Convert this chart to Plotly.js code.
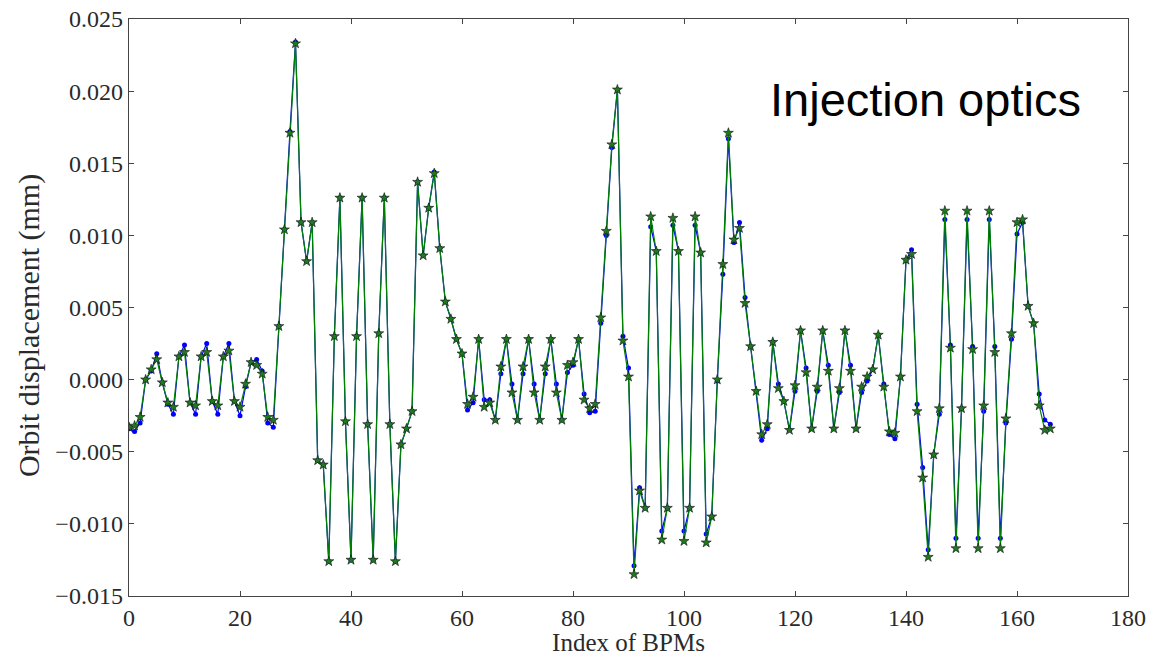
<!DOCTYPE html>
<html>
<head>
<meta charset="utf-8">
<script src="https://cdn.plot.ly/plotly-3.0.1.min.js"></script>
<style>html,body{margin:0;padding:0;background:#fff;}#chart{width:1150px;height:656px;}</style>
</head>
<body>
<div id="chart"></div>
<script>
const bpmIndex = [0,1,2,3,4,5,6,7,8,9,10,11,12,13,14,15,16,17,18,19,20,21,22,23,24,25,26,27,28,29,30,31,32,33,34,35,36,37,38,39,40,41,42,43,44,45,46,47,48,49,50,51,52,53,54,55,56,57,58,59,60,61,62,63,64,65,66,67,68,69,70,71,72,73,74,75,76,77,78,79,80,81,82,83,84,85,86,87,88,89,90,91,92,93,94,95,96,97,98,99,100,101,102,103,104,105,106,107,108,109,110,111,112,113,114,115,116,117,118,119,120,121,122,123,124,125,126,127,128,129,130,131,132,133,134,135,136,137,138,139,140,141,142,143,144,145,146,147,148,149,150,151,152,153,154,155,156,157,158,159,160,161,162,163,164,165,166];

const measured = [
-0.0034,-0.0036,-0.0030,0.0000,0.0006,0.0018,-0.0002,-0.0017,-0.0024,0.0016,
0.0024,-0.0016,-0.0024,0.0016,0.0025,-0.0015,-0.0024,0.0016,0.0025,-0.0015,
-0.0025,-0.0005,0.0012,0.0014,0.0006,-0.0030,-0.0033,0.0037,0.0104,0.0172,
0.0234,0.0109,0.0082,0.0109,-0.0056,-0.0059,-0.0126,0.0030,0.0126,-0.0029,
-0.0125,0.0030,0.0126,-0.0031,-0.0125,0.0032,0.0126,-0.0031,-0.0126,-0.0045,
-0.0034,-0.0022,0.0137,0.0086,0.0119,0.0144,0.0091,0.0054,0.0042,0.0028,
0.0018,-0.0021,-0.0016,0.0028,-0.0014,-0.0014,-0.0028,0.0004,0.0028,-0.0003,
-0.0028,0.0004,0.0028,-0.0003,-0.0028,0.0004,0.0028,-0.0003,-0.0028,0.0005,
0.0010,0.0028,-0.0010,-0.0023,-0.0022,0.0039,0.0100,0.0161,0.0201,0.0030,
0.0008,-0.0129,-0.0075,-0.0089,0.0106,0.0089,-0.0105,-0.0089,0.0107,0.0089,
-0.0105,-0.0089,0.0107,0.0088,-0.0107,-0.0095,-0.0001,0.0073,0.0167,0.0095,
0.0109,0.0057,0.0023,-0.0008,-0.0042,-0.0034,0.0026,-0.0003,-0.0015,-0.0035,
-0.0008,0.0034,0.0008,-0.0034,-0.0008,0.0034,0.0010,-0.0034,-0.0009,0.0034,
0.0010,-0.0034,-0.0009,-0.0001,0.0007,0.0031,-0.0003,-0.0038,-0.0041,0.0002,
0.0083,0.0090,-0.0017,-0.0061,-0.0118,-0.0052,-0.0024,0.0111,0.0024,-0.0110,
-0.0020,0.0111,0.0023,-0.0110,-0.0022,0.0111,0.0023,-0.0110,-0.0030,0.0028,
0.0101,0.0109,0.0051,0.0039,-0.0010,-0.0028,-0.0031];

const model = [
-0.0033,-0.0032,-0.0026,0.0000,0.0007,0.0014,-0.0002,-0.0016,-0.0019,0.0016,
0.0019,-0.0016,-0.0018,0.0016,0.0019,-0.0015,-0.0018,0.0016,0.0020,-0.0015,
-0.0019,-0.0003,0.0012,0.0010,0.0004,-0.0026,-0.0028,0.0037,0.0104,0.0171,
0.0233,0.0109,0.0082,0.0109,-0.0056,-0.0059,-0.0126,0.0030,0.0126,-0.0029,
-0.0125,0.0030,0.0126,-0.0031,-0.0125,0.0032,0.0126,-0.0031,-0.0126,-0.0045,
-0.0034,-0.0022,0.0137,0.0086,0.0119,0.0143,0.0091,0.0054,0.0042,0.0028,
0.0018,-0.0017,-0.0012,0.0028,-0.0019,-0.0016,-0.0028,0.0009,0.0028,-0.0009,
-0.0028,0.0009,0.0028,-0.0009,-0.0028,0.0009,0.0028,-0.0009,-0.0028,0.0010,
0.0012,0.0028,-0.0014,-0.0020,-0.0017,0.0043,0.0103,0.0163,0.0201,0.0027,
0.0002,-0.0135,-0.0077,-0.0089,0.0113,0.0089,-0.0111,-0.0089,0.0112,0.0089,
-0.0112,-0.0089,0.0113,0.0088,-0.0113,-0.0095,0.0000,0.0080,0.0171,0.0097,
0.0105,0.0053,0.0023,-0.0008,-0.0038,-0.0031,0.0026,-0.0006,-0.0015,-0.0035,
-0.0004,0.0034,0.0005,-0.0034,-0.0005,0.0034,0.0006,-0.0034,-0.0006,0.0034,
0.0006,-0.0034,-0.0005,0.0002,0.0007,0.0031,-0.0005,-0.0036,-0.0037,0.0002,
0.0083,0.0087,-0.0022,-0.0068,-0.0123,-0.0052,-0.0020,0.0117,0.0022,-0.0117,
-0.0020,0.0117,0.0021,-0.0117,-0.0018,0.0117,0.0019,-0.0117,-0.0027,0.0032,
0.0109,0.0111,0.0051,0.0039,-0.0018,-0.0035,-0.0034];

const xTickVals = [0,20,40,60,80,100,120,140,160,180];
const yTickVals = [-0.015,-0.010,-0.005,0.000,0.005,0.010,0.015,0.020,0.025];

const serif = '"Liberation Serif", "DejaVu Serif", serif';

const traces = [
  {x: bpmIndex, y: measured, type: 'scatter', mode: 'lines+markers',
   line: {color: '#0000ff', width: 1.2},
   marker: {color: '#0000ff', size: 5, symbol: 'circle', line: {width: 0}},
   hoverinfo: 'skip'},
  {x: bpmIndex, y: model, type: 'scatter', mode: 'lines+markers',
   line: {color: '#008000', width: 1.2},
   marker: {color: '#1f7a1f', size: 7.5, symbol: 'star', line: {color: '#111111', width: 0.6}},
   hoverinfo: 'skip'}
];

const axisCommon = {
  showgrid: false, zeroline: false, showline: true, mirror: 'ticks',
  linecolor: '#444', linewidth: 1.3, ticks: 'inside', ticklen: 5,
  tickcolor: '#444', tickwidth: 1,
  tickfont: {family: serif, size: 24, color: '#2a2a2a'}
};

const layout = {
  width: 1150, height: 656,
  margin: {l: 129, r: 22, t: 19, b: 60},
  paper_bgcolor: '#fff', plot_bgcolor: '#fff',
  showlegend: false,
  xaxis: Object.assign({}, axisCommon, {
    range: [0, 180], tickvals: xTickVals, ticktext: xTickVals.map(String),
    title: {text: 'Index of BPMs', font: {family: serif, size: 25, color: '#2a2a2a'}, standoff: 3}
  }),
  yaxis: Object.assign({}, axisCommon, {
    range: [-0.015, 0.025], tickvals: yTickVals,
    ticktext: yTickVals.map(v => (v < 0 ? '\u2212' : '') + Math.abs(v).toFixed(3))
  }),
  annotations: [{
    text: 'Injection optics', xref: 'paper', yref: 'paper',
    x: 0.955, y: 0.86, xanchor: 'right', yanchor: 'middle', showarrow: false,
    font: {family: '"Liberation Sans", Arial, sans-serif', size: 47, color: '#000'}
  }, {
    text: 'Orbit displacement (mm)', xref: 'paper', yref: 'paper',
    x: -0.100, y: 0.468, xanchor: 'center', yanchor: 'middle', textangle: -90, showarrow: false,
    font: {family: serif, size: 30, color: '#2a2a2a'}
  }]
};

Plotly.newPlot('chart', traces, layout, {displayModeBar: false, staticPlot: true});
</script>
</body>
</html>
